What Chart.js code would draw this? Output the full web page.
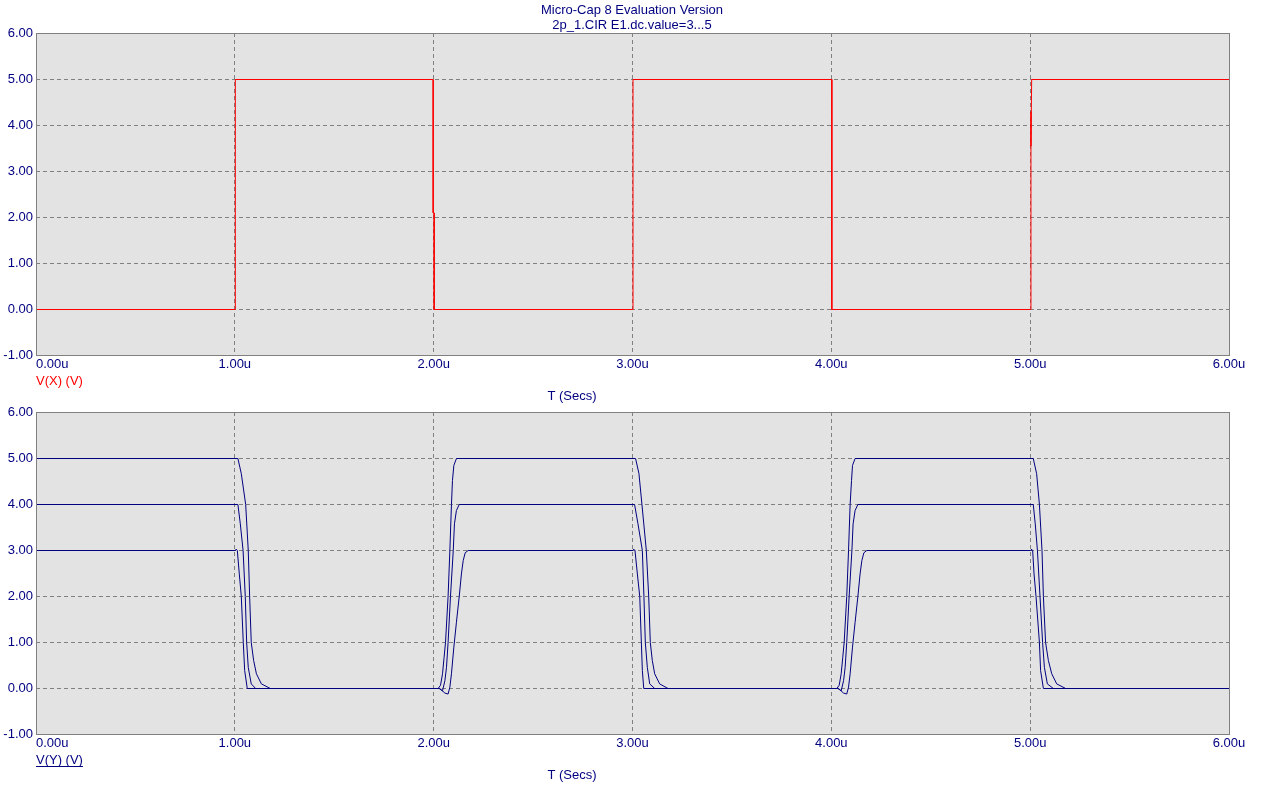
<!DOCTYPE html>
<html>
<head>
<meta charset="utf-8">
<script src="https://cdn.jsdelivr.net/npm/chart.js@4.4.0/dist/chart.umd.min.js"></script>
<style>
  html, body { margin: 0; padding: 0; background: #fff; }
  #wrap { position: relative; width: 1264px; height: 790px; }
  #topChart { position: absolute; left: 0; top: 0; }
  #botChart { position: absolute; left: 0; top: 405px; }
</style>
</head>
<body>
<div id="wrap">
  <canvas id="topChart" width="1264" height="405"></canvas>
  <canvas id="botChart" width="1264" height="385"></canvas>
</div>
<script>
const titleLines = ['Micro-Cap 8 Evaluation Version', '2p_1.CIR E1.dc.value=3...5'];
const xTicks = [0, 1, 2, 3, 4, 5, 6];
const xTickLabels = ['0.00u', '1.00u', '2.00u', '3.00u', '4.00u', '5.00u', '6.00u'];
const yTicks = [-1, 0, 1, 2, 3, 4, 5, 6];
const yTickLabels = ['-1.00', '0.00', '1.00', '2.00', '3.00', '4.00', '5.00', '6.00'];
const xAxisTitle = 'T (Secs)';
const topSeriesLabel = 'V(X) (V)';
const botSeriesLabel = 'V(Y) (V)';

// V(X): input square wave [time us, volts]
const vx = [[0, 0], [1, 0], [1, 5], [1.995, 5], [1.995, 2.1], [2, 2.1], [2, 0], [3, 0], [3, 5], [4, 5], [4, 0],
  [5, 0], [5, 4.3], [5.003, 3.55], [5.005, 5], [6, 5]];

// V(Y) for E1.dc.value = 5, 4, 3
const vy5 = [
  [0, 5], [1.013, 5], [1.030, 4.67], [1.052, 4.0], [1.065, 3.0], [1.072, 2.0], [1.080, 1.0], [1.092, 0.61], [1.106, 0.32], [1.131, 0.10], [1.176, 0],
  [2.020, 0], [2.032, 0.07], [2.042, 0.32], [2.050, 0.68], [2.057, 1.0], [2.070, 2.0], [2.079, 3.0], [2.087, 4.0], [2.092, 4.52], [2.099, 4.85], [2.112, 5.0],
  [3.013, 5], [3.030, 4.67], [3.045, 4.0], [3.067, 3.0], [3.079, 2.0], [3.087, 1.0], [3.097, 0.61], [3.109, 0.32], [3.134, 0.10], [3.176, 0],
  [4.025, 0], [4.037, 0.07], [4.047, 0.32], [4.055, 0.68], [4.062, 1.0], [4.075, 2.0], [4.084, 3.0], [4.092, 4.0], [4.099, 4.52], [4.104, 4.85], [4.117, 5.0],
  [5.013, 5], [5.030, 4.67], [5.044, 4.0], [5.057, 3.0], [5.064, 2.0], [5.075, 1.0], [5.089, 0.61], [5.106, 0.32], [5.131, 0.10], [5.176, 0], [6, 0]
];
const vy4 = [
  [0, 4], [1.013, 4], [1.025, 3.58], [1.039, 3.0], [1.050, 2.0], [1.057, 1.0], [1.065, 0.46], [1.080, 0.10], [1.102, 0],
  [2.025, 0], [2.042, -0.05], [2.054, 0.17], [2.062, 0.46], [2.070, 1.0], [2.082, 2.0], [2.096, 3.0], [2.102, 3.58], [2.112, 3.87], [2.126, 4.0],
  [3.008, 4], [3.025, 3.58], [3.047, 3.0], [3.055, 2.0], [3.062, 1.0], [3.072, 0.46], [3.084, 0.10], [3.109, 0],
  [4.030, 0], [4.047, -0.05], [4.059, 0.17], [4.067, 0.46], [4.075, 1.0], [4.087, 2.0], [4.101, 3.0], [4.107, 3.58], [4.117, 3.87], [4.131, 4.0],
  [5.013, 4], [5.023, 3.58], [5.034, 3.0], [5.047, 2.0], [5.060, 1.0], [5.069, 0.46], [5.084, 0.10], [5.114, 0], [6, 0]
];
const vy3 = [
  [0, 3], [1.000, 3], [1.004, 3.03], [1.010, 3.0], [1.020, 2.49], [1.030, 2.0], [1.040, 1.0], [1.047, 0.39], [1.060, 0],
  [2.028, 0], [2.054, -0.10], [2.070, -0.12], [2.079, 0.03], [2.087, 0.32], [2.099, 0.90], [2.112, 1.44], [2.126, 2.0], [2.137, 2.49], [2.146, 2.78], [2.156, 2.95], [2.171, 3.0],
  [3.000, 3], [3.004, 3.03], [3.010, 3.0], [3.022, 2.49], [3.034, 2.0], [3.042, 1.0], [3.047, 0.39], [3.054, 0],
  [4.034, 0], [4.059, -0.10], [4.075, -0.12], [4.084, 0.03], [4.092, 0.32], [4.104, 0.90], [4.117, 1.44], [4.131, 2.0], [4.142, 2.49], [4.151, 2.78], [4.161, 2.95], [4.176, 3.0],
  [5.000, 3], [5.004, 3.03], [5.010, 3.0], [5.017, 2.49], [5.027, 2.0], [5.044, 1.0], [5.050, 0.39], [5.064, 0], [6, 0]
];

const navy = '#000080';
const gridGray = '#808080';
const plotBg = '#e3e3e3';
const textFont = '13px "Liberation Sans", Arial, sans-serif';

function toPoints(arr) {
  return arr.map(p => ({ x: p[0], y: p[1] }));
}

function panelPlugin(seriesLabel, seriesColor, underline, withTitle) {
  return {
    id: 'panel',
    beforeDraw(chart) {
      const a = chart.chartArea;
      const ctx = chart.ctx;
      ctx.save();
      ctx.fillStyle = plotBg;
      ctx.fillRect(a.left, a.top, a.right - a.left, a.bottom - a.top);
      ctx.restore();
    },
    beforeDatasetsDraw(chart) {
      chart.ctx.save();
      chart.ctx.translate(0.5, 0.5);
    },
    afterDatasetsDraw(chart) {
      chart.ctx.restore();
      const a = chart.chartArea;
      const ctx = chart.ctx;
      const xs = chart.scales.x;
      const ys = chart.scales.y;
      ctx.save();
      ctx.strokeStyle = gridGray;
      ctx.lineWidth = 1;
      ctx.strokeRect(a.left + 0.5, a.top + 0.5, a.right - a.left, a.bottom - a.top);

      ctx.font = textFont;
      ctx.fillStyle = navy;
      ctx.textBaseline = 'middle';
      ctx.textAlign = 'right';
      yTicks.forEach((v, i) => {
        ctx.fillText(yTickLabels[i], a.left - 3, ys.getPixelForValue(v));
      });
      xTicks.forEach((v, i) => {
        ctx.textAlign = i === 0 ? 'left' : 'center';
        ctx.fillText(xTickLabels[i], i === 0 ? a.left : xs.getPixelForValue(v), a.bottom + 9);
      });

      ctx.textAlign = 'left';
      ctx.fillStyle = seriesColor;
      ctx.fillText(seriesLabel, a.left, a.bottom + 26);
      if (underline) {
        const w = ctx.measureText(seriesLabel).width;
        ctx.fillRect(a.left, a.bottom + 32, w, 1);
      }

      ctx.fillStyle = navy;
      ctx.textAlign = 'center';
      ctx.fillText(xAxisTitle, 572, a.bottom + 41);

      if (withTitle) {
        ctx.fillText(titleLines[0], chart.width / 2, 10);
        ctx.fillText(titleLines[1], chart.width / 2, 25);
      }
      ctx.restore();
    }
  };
}

function makeChart(id, datasets, padding, plugin) {
  const edge = (c, lo, hi) => (c.tick && (c.tick.value === lo || c.tick.value === hi)) ? 'rgba(0,0,0,0)' : gridGray;
  return new Chart(document.getElementById(id), {
    type: 'line',
    data: { datasets: datasets },
    options: {
      responsive: false,
      devicePixelRatio: 1,
      animation: false,
      layout: { padding: padding },
      elements: { point: { radius: 0 }, line: { tension: 0, borderWidth: 1 } },
      scales: {
        x: {
          type: 'linear',
          min: 0,
          max: 6,
          ticks: { stepSize: 1, display: false },
          grid: { color: c => edge(c, 0, 6), drawTicks: false, lineWidth: 1 },
          border: { display: false, dash: [4, 3] },
          afterFit: s => { s.height = 0; }
        },
        y: {
          type: 'linear',
          min: -1,
          max: 6,
          ticks: { stepSize: 1, display: false },
          grid: { color: c => edge(c, -1, 6), drawTicks: false, lineWidth: 1 },
          border: { display: false, dash: [4, 3] },
          afterFit: s => { s.width = 0; }
        }
      },
      plugins: {
        legend: { display: false },
        tooltip: { enabled: false }
      }
    },
    plugins: [plugin]
  });
}

makeChart('topChart', [
  { label: 'V(X)', data: toPoints(vx), borderColor: '#ff0000', borderWidth: 1, pointRadius: 0 }
], { left: 36, right: 35, top: 33, bottom: 50 }, panelPlugin(topSeriesLabel, '#ff0000', false, true));

makeChart('botChart', [
  { label: 'V(Y) 5', data: toPoints(vy5), borderColor: navy, borderWidth: 1, pointRadius: 0 },
  { label: 'V(Y) 4', data: toPoints(vy4), borderColor: navy, borderWidth: 1, pointRadius: 0 },
  { label: 'V(Y) 3', data: toPoints(vy3), borderColor: navy, borderWidth: 1, pointRadius: 0 }
], { left: 36, right: 35, top: 7, bottom: 56 }, panelPlugin(botSeriesLabel, navy, true, false));
</script>
</body>
</html>
